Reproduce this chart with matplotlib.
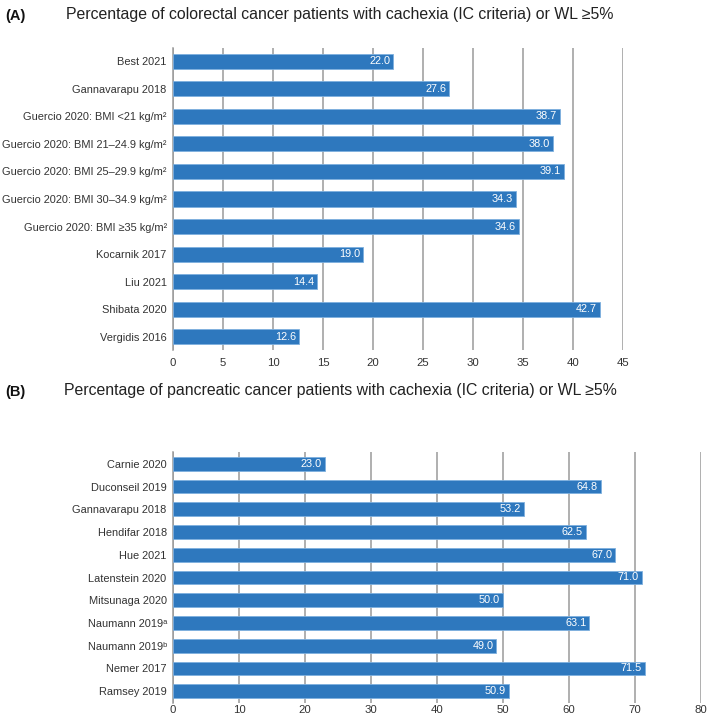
import matplotlib
matplotlib.use("Agg")
import matplotlib.pyplot as plt

BLUE = "#2E78BE"
EDGE = "#7EB0DE"
GRIDC = "#9A9A9A"
INK = "#333333"

plt.rcParams.update({
    "font.family": ["Liberation Sans", "DejaVu Sans"],
    "font.size": 8,
    "text.color": INK,
})

# ---- data ----
crc_labels = [
    "Best 2021", "Gannavarapu 2018",
    "Guercio 2020: BMI <21 kg/m\u00b2",
    "Guercio 2020: BMI 21\u201324.9 kg/m\u00b2",
    "Guercio 2020: BMI 25\u201329.9 kg/m\u00b2",
    "Guercio 2020: BMI 30\u201334.9 kg/m\u00b2",
    "Guercio 2020: BMI \u226535 kg/m\u00b2",
    "Kocarnik 2017", "Liu 2021", "Shibata 2020", "Vergidis 2016",
]
crc_values = [22.0, 27.6, 38.7, 38.0, 39.1, 34.3, 34.6, 19.0, 14.4, 42.7, 12.6]
crc_ticks = [0, 5, 10, 15, 20, 25, 30, 35, 40, 45]

panc_labels = [
    "Carnie 2020", "Duconseil 2019", "Gannavarapu 2018", "Hendifar 2018",
    "Hue 2021", "Latenstein 2020", "Mitsunaga 2020",
    "Naumann 2019\u1d43", "Naumann 2019\u1d47",
    "Nemer 2017", "Ramsey 2019",
]
panc_values = [23.0, 64.8, 53.2, 62.5, 67.0, 71.0, 50.0, 63.1, 49.0, 71.5, 50.9]
panc_ticks = [0, 10, 20, 30, 40, 50, 60, 70, 80]


def panel(fig, rect, labels, values, ticks, bar_h, ypad, unit_px, xpad):
    ax = fig.add_axes(rect)
    y = list(range(len(labels)))
    ax.barh(y, values, height=bar_h, color=BLUE, edgecolor=EDGE,
            linewidth=0.6, zorder=3)
    for yi, v in zip(y, values):
        ax.text(v - 2.8 / unit_px, yi, f"{v:.1f}", ha="right", va="center",
                color="white", fontsize=7.8, zorder=4)
    ax.set_xlim(ticks[0], ticks[-1])
    ax.set_ylim(len(labels) - 1 + ypad, -ypad)
    ax.set_yticks(y)
    ax.set_yticklabels(labels, fontsize=7.9, color=INK)
    ax.set_xticks(ticks)
    ax.tick_params(axis="y", length=0, pad=4.5)
    ax.tick_params(axis="x", length=0, pad=xpad, labelsize=8.2, labelcolor=INK)
    for s in ("top", "right", "bottom"):
        ax.spines[s].set_visible(False)
    ax.spines["left"].set_color(GRIDC)
    ax.spines["left"].set_linewidth(1.1)
    ax.grid(axis="x", color=GRIDC, linewidth=1.1)
    ax.set_axisbelow(True)
    return ax


fig = plt.figure(figsize=(7.09, 7.18), dpi=100)
W, H = 709, 718

# panel A
panel(fig, [173 / W, 1 - 350 / H, 450 / W, 302 / H],
      crc_labels, crc_values, crc_ticks, 0.55, 0.48, 10.0, 6)
fig.text(5 / W, 1 - 16 / H, "(A)", fontsize=10.5, fontweight="bold",
         ha="left", va="center", color="#111111")
fig.text(66 / W, 1 - 14 / H,
         "Percentage of colorectal cancer patients with cachexia (IC criteria) or WL \u22655%",
         fontsize=11.4, ha="left", va="center", color="#222222")

# panel B
panel(fig, [173 / W, 1 - 703 / H, 528 / W, 251 / H],
      panc_labels, panc_values, panc_ticks, 0.61, 0.52, 6.6, 1.5)
fig.text(5 / W, 1 - 392 / H, "(B)", fontsize=10.5, fontweight="bold",
         ha="left", va="center", color="#111111")
fig.text(64 / W, 1 - 390 / H,
         "Percentage of pancreatic cancer patients with cachexia (IC criteria) or WL \u22655%",
         fontsize=11.4, ha="left", va="center", color="#222222")

fig.savefig("out.png", dpi=100)
